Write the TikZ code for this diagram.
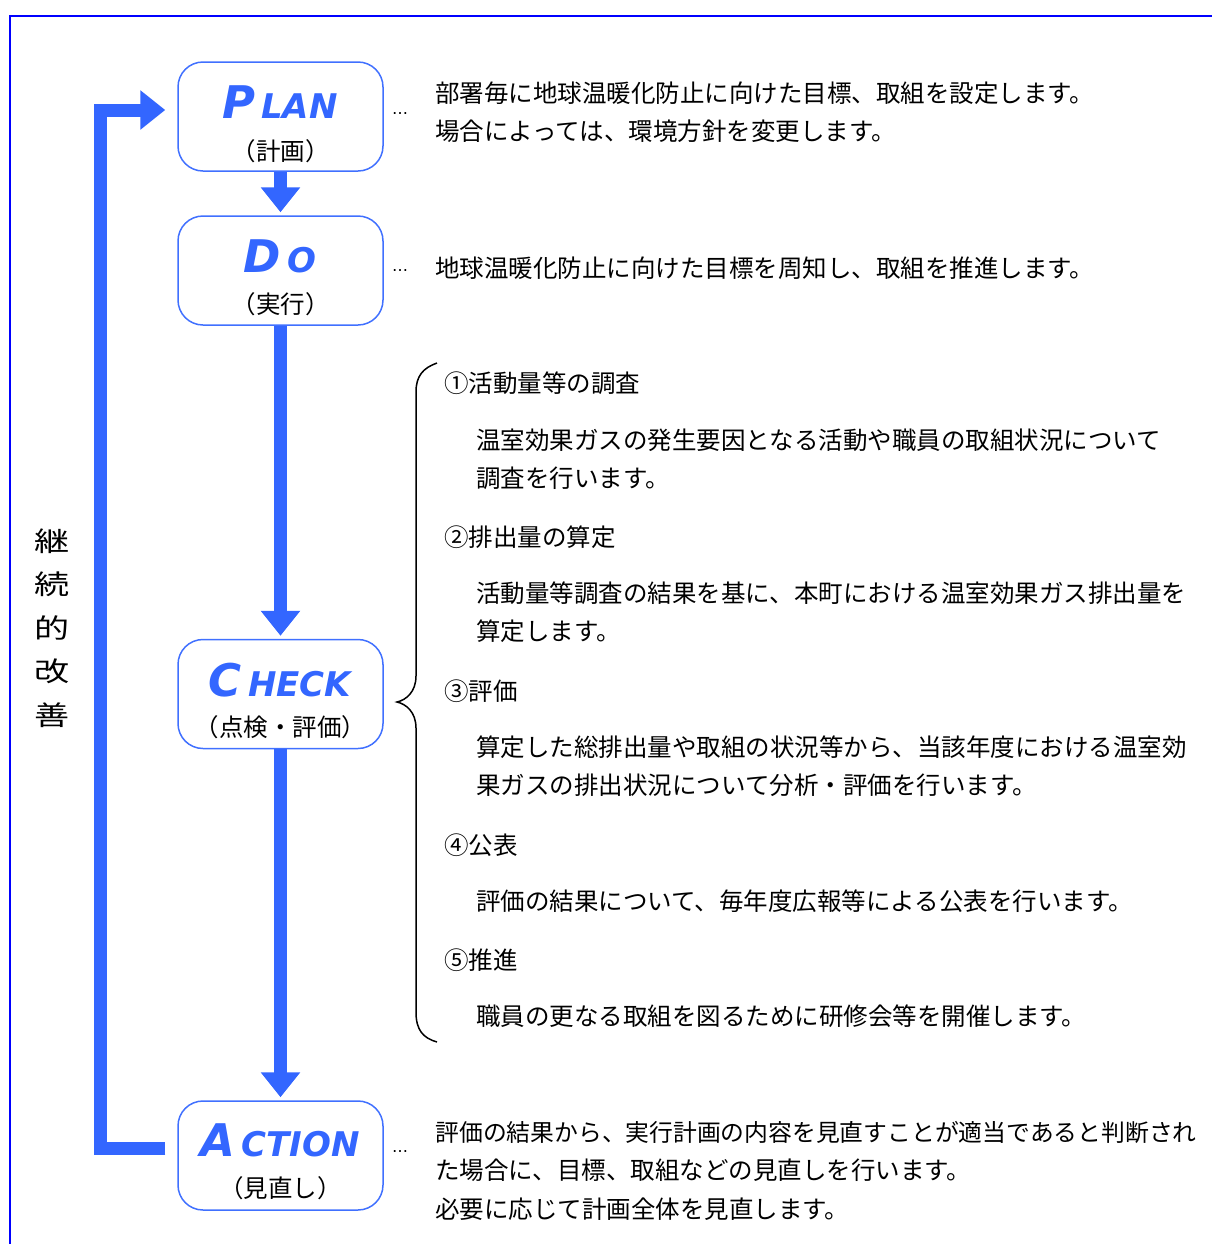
\documentclass[tikz,border=0pt]{standalone}
\usepackage{graphicx}
\usepackage{fontspec}
\setmainfont{Noto Sans CJK JP}
\newfontfamily\ttlfont{DejaVu Sans Bold Oblique}
\newfontfamily\dvsfont{DejaVu Sans}
\usetikzlibrary{arrows.meta}
\definecolor{arrowblue}{RGB}{51,102,255}
\definecolor{boxblue}{RGB}{64,112,255}
\definecolor{frameblue}{RGB}{0,0,255}
\newcommand\pdcaTitle[2]{{\ttlfont\fontsize{22.5pt}{22.5pt}\selectfont #1}\hspace{3pt}{\ttlfont\fontsize{17pt}{17pt}\selectfont #2}}
\begin{document}
\begin{tikzpicture}[x=0.5pt,y=-0.5pt,
  pbox/.style={draw=boxblue, line width=0.75pt, rounded corners=12.5pt, minimum width=102.5pt, minimum height=54.5pt, inner sep=0pt},
  ptitle/.style={anchor=base, inner sep=0pt, text=arrowblue},
  psub/.style={anchor=base, inner sep=0pt, font=\fontsize{12.25pt}{15pt}\selectfont},
  ptxt/.style={anchor=base west, inner sep=0pt, font=\fontsize{12.25pt}{15pt}\selectfont},
  pdots/.style={anchor=base, inner sep=0pt, font=\dvsfont\fontsize{8pt}{8pt}\selectfont},
  pvert/.style={anchor=center, inner sep=0pt, font=\fontsize{13.5pt}{15pt}\selectfont},
  flow/.style={draw=arrowblue, line width=6.5pt, -{Triangle[length=12.5pt,width=19pt]}, shorten >=1.5pt}
]
\useasboundingbox (0,0) rectangle (1212,1244);
% frame
\draw[frameblue, line width=1pt] (10,1244) -- (10,16) -- (1212,16);

% boxes
\node[pbox] (plan) at (280.5,116.5) {};
\node[pbox] (do) at (280.5,270.5) {};
\node[pbox] (check) at (280.5,694) {};
\node[pbox] (action) at (280.5,1155.5) {};

% titles
\node[ptitle] (planT) at (280,118) {\pdcaTitle{P}{LAN}};
\node[psub] (planS) at (280.5,160) {（計画）};
\node[ptitle] (doT) at (280,272) {\pdcaTitle{D}{O}};
\node[psub] (doS) at (280.5,313) {（実行）};
\node[ptitle] (checkT) at (280,696) {\pdcaTitle{C}{HECK}};
\node[psub] (checkS) at (280.5,736) {（点検・評価）};
\node[ptitle] (actionT) at (280,1156) {\pdcaTitle{A}{CTION}};
\node[psub] (actionS) at (280.5,1197) {（見直し）};

% arrows
\draw[flow] (plan.south) -- (do.north);
\draw[flow] (do.south) -- (check.north);
\draw[flow] (check.south) -- (action.north);
\draw[flow, line join=miter, shorten >=6pt, shorten <=6pt] ([yshift=3.75pt]action.west) -| (100.5,110) -- ([yshift=3.25pt]plan.west);

% vertical label
\node[pvert] (v1) at (52,541) {\scalebox{1.3}[1]{継}};
\node[pvert] (v2) at (52,584.5) {\scalebox{1.3}[1]{続}};
\node[pvert] (v3) at (52,628) {\scalebox{1.3}[1]{的}};
\node[pvert] (v4) at (52,671.5) {\scalebox{1.3}[1]{改}};
\node[pvert] (v5) at (52,715) {\scalebox{1.3}[1]{善}};

% dots
\node[pdots] (d1) at (400,114) {…};
\node[pdots] (d2) at (400,271) {…};
\node[pdots] (d3) at (400,1152) {…};

% plan / do texts
\node[ptxt] (p1) at (435,102) {部署毎に地球温暖化防止に向けた目標、取組を設定します。};
\node[ptxt] (p2) at (435,140) {場合によっては、環境方針を変更します。};
\node[ptxt] (do1) at (435,277) {地球温暖化防止に向けた目標を周知し、取組を推進します。};

% brace
\draw[black, line width=0.75pt] (437,363) .. controls (423,368) and (416,376) .. (416,392) -- (416,676)
  .. controls (416,692) and (406,700) .. (397,702)
  .. controls (406,704) and (416,712) .. (416,728) -- (416,1012)
  .. controls (416,1030) and (423,1038) .. (437,1042);

% check items
\node[ptxt] (c1) at (444,392) {①活動量等の調査};
\node[ptxt] (c1a) at (476,449) {温室効果ガスの発生要因となる活動や職員の取組状況について};
\node[ptxt] (c1b) at (476,487) {調査を行います。};
\node[ptxt] (c2) at (444,546) {②排出量の算定};
\node[ptxt] (c2a) at (476,602) {活動量等調査の結果を基に、本町における温室効果ガス排出量を};
\node[ptxt] (c2b) at (476,640) {算定します。};
\node[ptxt] (c3) at (444,700) {③評価};
\node[ptxt] (c3a) at (476,756) {算定した総排出量や取組の状況等から、当該年度における温室効};
\node[ptxt] (c3b) at (476,794) {果ガスの排出状況について分析・評価を行います。};
\node[ptxt] (c4) at (444,854) {④公表};
\node[ptxt] (c4a) at (476,910) {評価の結果について、毎年度広報等による公表を行います。};
\node[ptxt] (c5) at (444,969) {⑤推進};
\node[ptxt] (c5a) at (476,1025) {職員の更なる取組を図るために研修会等を開催します。};

% action texts
\node[ptxt, font=\fontsize{11.9pt}{15pt}\selectfont] (a1) at (435,1141) {評価の結果から、実行計画の内容を見直すことが適当であると判断され};
\node[ptxt] (a2) at (435,1179) {た場合に、目標、取組などの見直しを行います。};
\node[ptxt] (a3) at (435,1218) {必要に応じて計画全体を見直します。};
\end{tikzpicture}
\end{document}
